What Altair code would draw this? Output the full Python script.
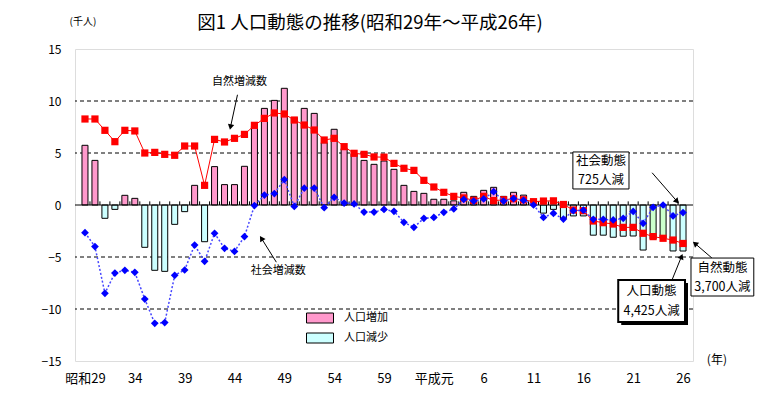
import math
import altair as alt
import pandas as pd

# ---------------- data (thousand persons), 昭和29年(1954) .. 平成26年(2014) ----------------
years = list(range(1954, 2015))

natural = [
    8.27, 8.27, 7.18, 6.09, 7.18, 7.12, 5.00, 5.06, 4.87, 4.78,
    5.67, 5.67, 1.89, 6.31, 6.06, 6.41, 6.79, 7.66, 8.33, 8.85,
    8.75, 8.17, 7.69, 7.21, 6.25, 6.41, 5.61, 4.97, 4.87, 4.62,
    4.60, 4.00, 3.53, 3.33, 2.37, 1.73, 1.22, 0.83, 0.68, 0.45,
    0.83, 0.42, 0.50, 0.60, 0.50, 0.32, 0.38, 0.40, 0.05, -0.48,
    -0.55, -1.54, -1.70, -1.83, -2.15, -2.15, -2.72, -3.04, -3.20, -3.37,
    -3.70,
]

social = [
    -2.66, -4.00, -8.49, -6.54, -6.28, -6.47, -9.04, -11.38, -11.31, -6.76,
    -6.25, -3.85, -5.42, -2.72, -4.17, -4.46, -3.04, -0.06, 0.95, 1.10,
    2.45, -0.14, 1.62, 1.63, -0.26, 0.74, 0.19, 0.10, -0.68, -0.68,
    -0.43, -0.61, -1.67, -2.15, -1.28, -1.20, -0.70, -0.38, 0.54, 0.38,
    0.58, 1.28, 0.38, 0.62, 0.45, 0.00, -1.19, -0.80, -1.35, -0.55,
    -0.50, -1.38, -1.38, -1.44, -1.28, -0.62, -1.76, -0.22, 0.00, -1.05,
    -0.725,
]

total = [
    5.74, 4.29, -1.28, -0.42, 0.93, 0.64, -4.07, -6.28, -6.38, -1.86,
    -0.64, 1.89, -3.53, 3.69, 1.96, 1.96, 3.72, 7.63, 9.29, 10.06,
    11.22, 8.40, 9.29, 8.81, 5.99, 7.28, 5.42, 4.94, 4.29, 3.91,
    4.23, 3.43, 1.89, 1.31, 1.12, 0.55, 0.55, 0.40, 1.22, 0.83,
    1.41, 1.70, 0.83, 1.22, 0.95, 0.25, -0.78, -0.42, -1.30, -1.05,
    -1.05, -2.90, -2.90, -3.10, -3.00, -2.98, -4.33, -3.26, -3.20, -4.42,
    -4.425,
]

adjusted_years = [2011, 2012]

x_labels = ["昭和29", "34", "39", "44", "49", "54", "59", "平成元", "6", "11", "16", "21", "26"]
y_ticks = [-15, -10, -5, 0, 5, 10, 15]
grid_values = [10, 5, -5, -10]

legend_labels = ["人口増加", "人口減少"]
title_text = "図1 人口動態の推移(昭和29年～平成26年)"

# annotations in data coordinates (year index, thousand persons)
ann_texts = [
    (title_text, 28.6, 17.5, 18.5),
    ("自然増減数", 15.5, 11.8, 11),
    ("社会増減数", 19.4, -6.35, 11),
    ("社会動態", 51.77, 4.2, 12.5),
    ("725人減", 51.77, 2.45, 12.5),
    ("自然動態", 63.95, -6.05, 12.5),
    ("3,700人減", 63.95, -7.85, 12.5),
    ("人口動態", 56.85, -8.25, 12.5),
    ("4,425人減", 56.85, -10.15, 12.5),
    ("(千人)", -0.2, 17.6, 10),
    ("(年)", 63.4, -14.9, 12),
]
ann_arrows = [  # tail x, tail y, head x, head y
    (15.3, 10.6, 14.6, 7.5),
    (19.2, -5.5, 17.7, -3.2),
    (56.9, 3.1, 59.4, 0.35),
    (62.9, -5.1, 61.2, -3.7),
    (58.9, -7.2, 59.85, -4.95),
]
ann_boxes = [  # x, x2, y, y2, strokeWidth
    (48.95, 54.58, 5.1, 1.54, 1),
    (60.8, 67.1, -5.1, -8.75, 1),
    (53.5, 60.2, -7.2, -11.25, 2),
]
shadow_boxes = [(53.8, 60.5, -7.5, -11.55)]

# ---------------- layout ----------------
FONT = "Noto Sans CJK JP"
W, H = 618, 312
N = len(years)
X_DOMAIN = [-0.5, N - 0.5]
Y_DOMAIN = [-15, 15]
PX_X = W / N
PX_Y = H / 30

df = pd.DataFrame({"idx": list(range(N)), "year": years,
                   "natural": natural, "social": social, "total": total})
df["kind"] = ["補正" if y in adjusted_years else ("人口増加" if t >= 0 else "人口減少")
              for y, t in zip(years, total)]

label_js = "[" + ",".join("'" + s + "'" for s in x_labels) + "]"
xscale = alt.Scale(domain=X_DOMAIN, nice=False, zero=False)
yscale = alt.Scale(domain=Y_DOMAIN, nice=False, zero=False)
xaxis = alt.Axis(values=list(range(0, N, 5)), labelExpr=label_js + "[round(datum.value/5)]",
                 title=None, grid=False, ticks=False, domain=False, labelPadding=11,
                 labelFontSize=13, labelFont=FONT, labelColor="black")
yaxis = alt.Axis(values=y_ticks, title=None, grid=False, ticks=False, domain=False,
                 labelPadding=14, labelFontSize=12, labelFont=FONT, labelColor="black")


def X(f):
    return alt.X(f, scale=xscale, axis=xaxis)


def Y(f):
    return alt.Y(f, scale=yscale, axis=yaxis)


grid = alt.Chart(pd.DataFrame({"v": grid_values})).mark_rule(
    color="black", strokeDash=[4, 3], strokeWidth=1).encode(y=Y("v:Q"))

zero_df = pd.DataFrame({"v": [0]})
zero_line = alt.Chart(zero_df).mark_rule(color="black", strokeWidth=1).encode(y=Y("v:Q"))

tick_df = pd.DataFrame({"b": [i + 0.5 for i in range(N - 1)], "lo": 0.0, "hi": 0.35})
zero_ticks = alt.Chart(tick_df).mark_rule(color="black", strokeWidth=1).encode(
    x=X("b:Q"), y=Y("lo:Q"), y2="hi:Q")

path = "M-1.08,-0.4H1.08V0.4H-1.08Z"
bars = alt.Chart(df).mark_bar(size=6, stroke="black", strokeWidth=1).encode(
    x=X("idx:Q"), y=Y("total:Q"), y2=alt.datum(0),
    color=alt.Color("kind:N",
                    scale=alt.Scale(domain=["人口増加", "人口減少", "補正"],
                                    range=["#FF99CC", "#CCFFFF", "#CCFFCC"]),
                    legend=alt.Legend(values=legend_labels, orient="none", legendX=232, legendY=256,
                                      title=None, symbolType=path, symbolSize=625,
                                      symbolStrokeColor="black", symbolStrokeWidth=1,
                                      symbolOpacity=1,
                                      labelFont=FONT, labelFontSize=11, labelOffset=11,
                                      labelColor="black", rowPadding=0, padding=0)),
)

red_line = alt.Chart(df).mark_line(color="#FF0000", strokeWidth=1).encode(x=X("idx:Q"), y=Y("natural:Q"))
red_pts = alt.Chart(df).mark_point(shape="square", filled=True, size=52, color="#FF0000", opacity=1).encode(
    x=X("idx:Q"), y=Y("natural:Q"))
blue_line = alt.Chart(df).mark_line(color="#4646FF", strokeWidth=1.5, strokeDash=[2, 2]).encode(
    x=X("idx:Q"), y=Y("social:Q"))
blue_pts = alt.Chart(df).mark_point(shape="diamond", filled=True, size=60, color="#0000FF", opacity=1).encode(
    x=X("idx:Q"), y=Y("social:Q"))

txt_df = pd.DataFrame(ann_texts, columns=["t", "x", "y", "fs"])
texts = alt.Chart(txt_df).mark_text(font=FONT, color="black", align="center", baseline="middle").encode(
    x=X("x:Q"), y=Y("y:Q"), text="t:N", size=alt.Size("fs:Q", scale=None, legend=None))

arr_df = pd.DataFrame(ann_arrows, columns=["x", "y", "x2", "y2"])
arr_df["ang"] = [
    (math.degrees(math.atan2((hx - tx) * PX_X, (hy - ty) * PX_Y)) + 360) % 360
    for tx, ty, hx, hy in ann_arrows
]
arrow_lines = alt.Chart(arr_df).mark_rule(color="black", strokeWidth=1).encode(
    x=X("x:Q"), y=Y("y:Q"), x2="x2:Q", y2="y2:Q")
arrow_heads = alt.Chart(arr_df).mark_point(shape="triangle-up", filled=True, size=40, color="black", opacity=1).encode(
    x=X("x2:Q"), y=Y("y2:Q"), angle=alt.Angle("ang:Q", scale=None))

sh_df = pd.DataFrame(shadow_boxes, columns=["x", "x2", "y", "y2"])
shadows = alt.Chart(sh_df).mark_rect(color="black").encode(x=X("x:Q"), x2="x2:Q", y=Y("y:Q"), y2="y2:Q")
box_df = pd.DataFrame(ann_boxes, columns=["x", "x2", "y", "y2", "sw"])
boxes = alt.Chart(box_df).mark_rect(fill="white", stroke="black").encode(
    x=X("x:Q"), x2="x2:Q", y=Y("y:Q"), y2="y2:Q",
    strokeWidth=alt.StrokeWidth("sw:Q", scale=None, legend=None))

chart = alt.layer(
    grid, bars, zero_line, zero_ticks, red_line, red_pts, blue_line, blue_pts,
    arrow_lines, arrow_heads, shadows, boxes, texts,
).properties(
    width=W, height=H,
    autosize=alt.AutoSizeParams(type="none"),
    padding={"left": 67, "top": 41, "right": 65, "bottom": 27},
).configure_view(stroke="black", strokeWidth=1).configure(background="white")

chart.save("out.html", embed_options={"renderer": "svg", "actions": False})
